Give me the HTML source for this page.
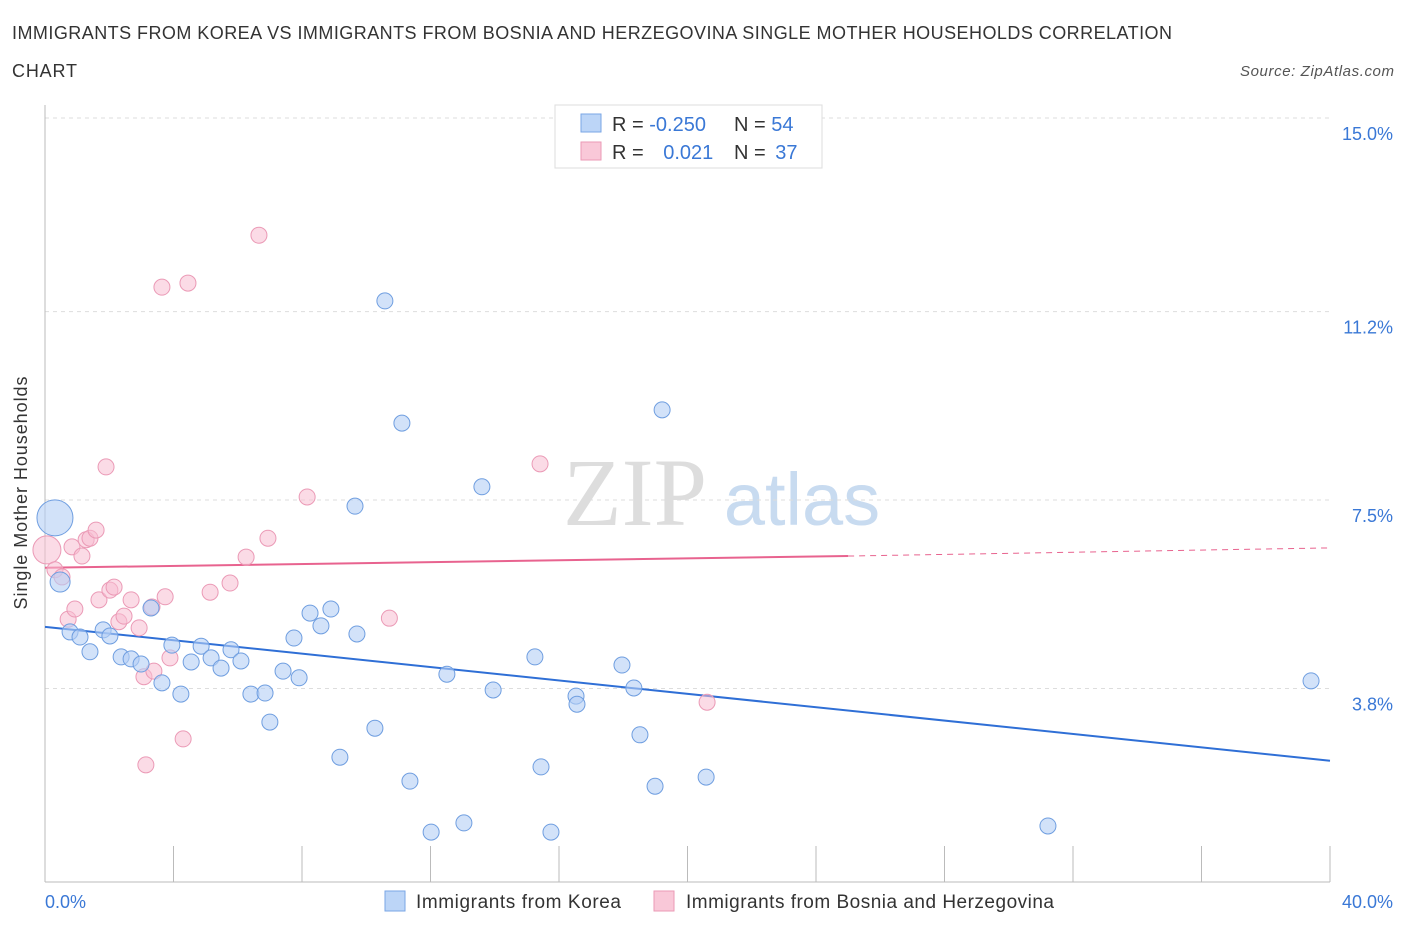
<!DOCTYPE html>
<html><head><meta charset="utf-8"><style>
body{margin:0;background:#fff;font-family:"Liberation Sans",sans-serif;}
</style></head><body>
<svg width="1406" height="930" xmlns="http://www.w3.org/2000/svg" style="font-family:'Liberation Sans',sans-serif">
<text x="12" y="39" font-size="18" fill="#333" textLength="1160" lengthAdjust="spacing">IMMIGRANTS FROM KOREA VS IMMIGRANTS FROM BOSNIA AND HERZEGOVINA SINGLE MOTHER HOUSEHOLDS CORRELATION</text>
<text x="12" y="77" font-size="18" fill="#333" textLength="65" lengthAdjust="spacing">CHART</text>
<text x="1394" y="76" font-size="15" fill="#555" font-style="italic" text-anchor="end" textLength="154">Source: ZipAtlas.com</text>
<g>
<text x="635" y="525" font-size="96" fill="#ddd" font-family="'Liberation Serif',serif" text-anchor="middle">ZIP</text>
<text x="802" y="525" font-size="74" fill="#c8dbf0" text-anchor="middle">atlas</text>
</g>
<g id="grid"></g>
<g id="axes"></g>
<g id="lines"></g>
<g id="pts"></g>
<text x="27" y="493" font-size="18" fill="#333" transform="rotate(-90 27 493)" text-anchor="middle" textLength="233">Single Mother Households</text>
<text x="45" y="908" font-size="18" fill="#3a78d6">0.0%</text>
<text x="1393" y="908" font-size="18" fill="#3a78d6" text-anchor="end">40.0%</text>
<g>
<rect x="555" y="105" width="267" height="63" fill="#fff" stroke="#ddd"/>
<rect x="581" y="114" width="20" height="18" fill="#bcd5f7" stroke="#7aa6e6"/>
<rect x="581" y="142" width="20" height="18" fill="#f9c8d8" stroke="#eb9ab6"/>
<text x="612" y="131" font-size="20" fill="#333">R = <tspan fill="#3a78d6">-0.250</tspan></text>
<text x="734" y="131" font-size="20" fill="#333">N = <tspan fill="#3a78d6">54</tspan></text>
<text x="612" y="159" font-size="20" fill="#333">R = <tspan fill="#3a78d6" dx="14">0.021</tspan></text>
<text x="734" y="159" font-size="20" fill="#333">N = <tspan fill="#3a78d6" dx="4">37</tspan></text>
</g>
<g>
<rect x="385" y="891" width="20" height="20" fill="#bcd5f7" stroke="#7aa6e6"/>
<text x="416" y="908" font-size="19" fill="#333" textLength="205">Immigrants from Korea</text>
<rect x="654" y="891" width="20" height="20" fill="#f9c8d8" stroke="#eb9ab6"/>
<text x="686" y="908" font-size="19" fill="#333" textLength="368">Immigrants from Bosnia and Herzegovina</text>
</g>
</svg>
<script>
const yTicks=[15.0,11.2,7.5,3.8];
const yTickLabels=["15.0%","11.2%","7.5%","3.8%"];
const xTicks=[0,4,8,12,16,20,24,28,32,36,40];
const koreaX=[0.31,0.47,0.78,1.09,1.40,1.81,2.02,2.37,2.68,2.99,3.30,3.64,3.95,4.23,4.55,4.86,5.17,5.48,5.79,6.10,6.41,6.85,7.00,7.41,7.75,7.91,8.25,8.59,8.90,9.18,9.65,9.71,10.27,10.58,11.11,11.36,12.02,12.51,13.04,13.60,13.95,15.25,15.44,15.75,16.53,16.56,17.96,18.33,18.52,18.99,19.21,20.58,31.22,39.41];
const koreaY=[7.15,5.89,4.91,4.81,4.52,4.95,4.83,4.42,4.38,4.28,5.38,3.91,4.65,3.69,4.32,4.63,4.40,4.20,4.56,4.34,3.69,3.71,3.14,4.14,4.79,4.01,5.28,5.03,5.36,2.45,7.38,4.87,3.02,11.41,9.01,1.98,0.98,4.08,1.16,7.76,3.77,4.42,2.26,0.98,3.65,3.49,4.26,3.81,2.89,1.88,9.27,2.06,1.10,3.95];
const bosniaX=[0.06,0.31,0.53,0.72,0.93,0.84,1.15,1.28,1.40,1.59,1.68,1.90,2.02,2.15,2.30,2.46,2.68,2.93,3.14,3.08,3.39,3.33,3.74,3.64,3.89,4.30,4.45,5.14,5.76,6.26,6.66,6.94,8.16,10.72,15.41,20.61];
const bosniaY=[6.52,6.13,5.99,5.16,5.36,6.58,6.40,6.72,6.75,6.91,5.54,8.15,5.73,5.79,5.11,5.22,5.54,4.99,2.30,4.03,4.14,5.40,5.60,11.68,4.40,2.81,11.76,5.69,5.87,6.38,12.70,6.75,7.56,5.18,8.21,3.53];
const koreaTrend=[5.01,2.38];
const bosniaTrend=[6.17,6.40,6.56];
const NS="http://www.w3.org/2000/svg";
const X=v=>45+v*32.125, Y=v=>882-v*50.93;
function mk(t,a,p){const e=document.createElementNS(NS,t);for(const k in a)e.setAttribute(k,a[k]);document.getElementById(p).appendChild(e);return e;}
yTicks.forEach((t,i)=>{
 const l=mk('line',{x1:45,x2:1330,y1:Y(t),y2:Y(t),stroke:'#ddd','stroke-dasharray':'4,4'},'grid');
 
 
 const tx=mk('text',{x:1393,y:Y(t)+22,'font-size':18,fill:'#3a78d6','text-anchor':'end'},'grid');
 tx.textContent=yTickLabels[i];
 
 
});
const ax=mk('line',{x1:45,x2:45,y1:105,y2:882,stroke:'#bbb'},'axes');


const bx=mk('line',{x1:45,x2:1330,y1:882,y2:882,stroke:'#bbb'},'axes');


xTicks.forEach(t=>{
 const l=mk('line',{x1:X(t),x2:X(t),y1:846,y2:882,stroke:'#bbb'},'axes');
 
 
});
let t1=mk('line',{x1:X(0),y1:Y(koreaTrend[0]),x2:X(40),y2:Y(koreaTrend[1]),stroke:'#2f6fd6','stroke-width':2},'lines');


let t2=mk('line',{x1:X(0),y1:Y(bosniaTrend[0]),x2:X(25),y2:Y(bosniaTrend[1]),stroke:'#e8638f','stroke-width':2},'lines');


let t3=mk('line',{x1:X(25),y1:Y(bosniaTrend[1]),x2:X(40),y2:Y(bosniaTrend[2]),stroke:'#e8638f','stroke-width':1,'stroke-dasharray':'6,5'},'lines');


bosniaX.forEach((x,i)=>{
 const c=mk('circle',{cx:X(x),cy:Y(bosniaY[i]),r:i==0?14:8,fill:'rgba(248,190,210,0.55)',stroke:'#eb9ab6','stroke-width':1},'pts');
 
 
});
koreaX.forEach((x,i)=>{
 const c=mk('circle',{cx:X(x),cy:Y(koreaY[i]),r:i==0?18:(i==1?10:8),fill:'rgba(180,206,245,0.6)',stroke:'#6f9ee0','stroke-width':1},'pts');
 
 
});
</script>
</body></html>
